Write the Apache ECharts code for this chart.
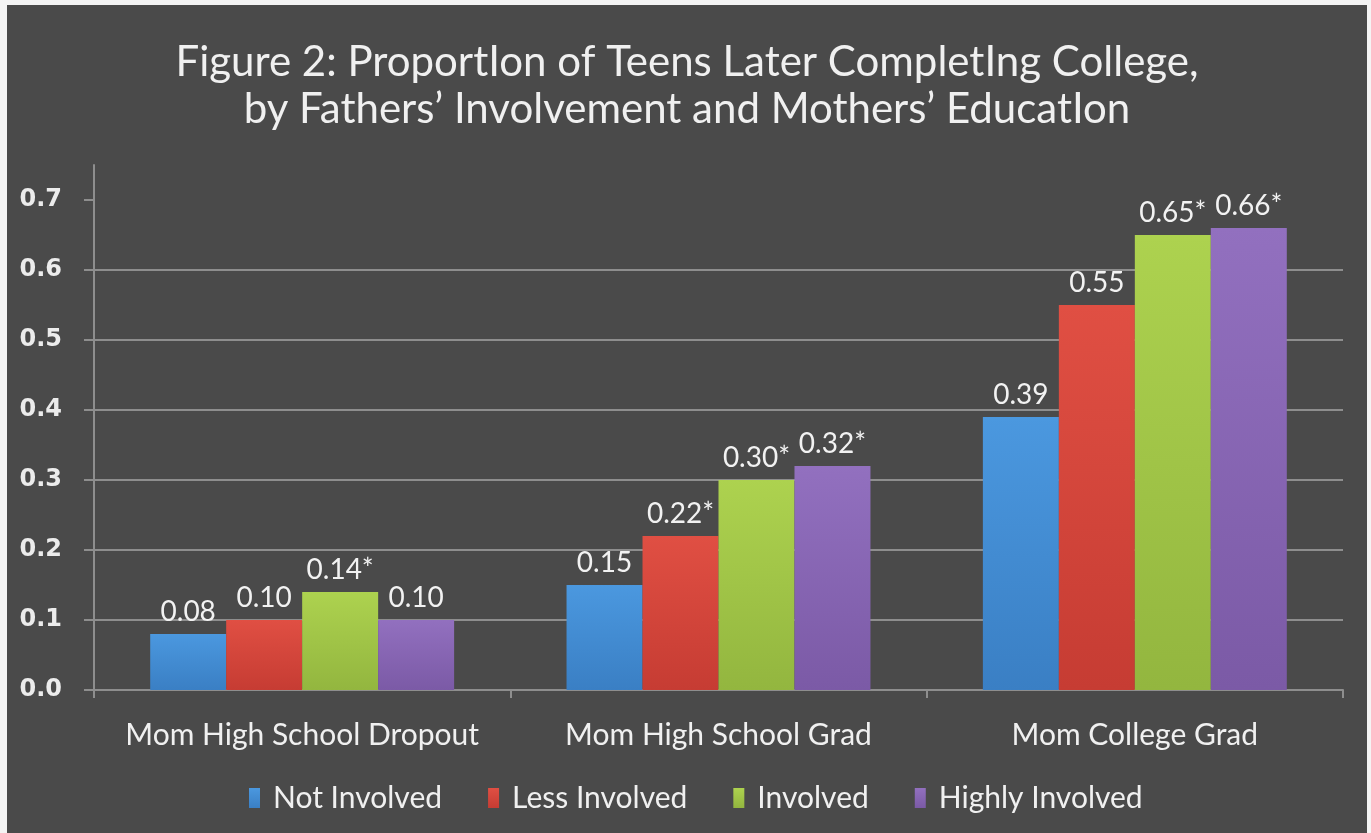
<!DOCTYPE html>
<html>
<head>
<meta charset="utf-8">
<script src="https://cdn.jsdelivr.net/npm/echarts@6/dist/echarts.min.js"></script>
<style>
html, body { margin: 0; padding: 0; background: #f4f4f4; }
#chart { position: absolute; left: 7px; top: 5px; width: 1360px; height: 828px; }
</style>
</head>
<body>
<div id="chart"></div>
<script>
// categories + series
var categories = ['Mom High School Dropout', 'Mom High School Grad', 'Mom College Grad'];
var seriesNames = ['Not Involved', 'Less Involved', 'Involved', 'Highly Involved'];
var notInvolved = [0.08, 0.15, 0.39];
var lessInvolved = [0.10, 0.22, 0.55];
var involved = [0.14, 0.30, 0.65];
var highlyInvolved = [0.10, 0.32, 0.66];
// significance stars
var notInvolvedSig = [false, false, false];
var lessInvolvedSig = [false, true, false];
var involvedSig = [true, true, true];
var highlyInvolvedSig = [false, true, true];
var yTicks = [0, 0.1, 0.2, 0.3, 0.4, 0.5, 0.6, 0.7];

var colors = [
	['#4b98df', '#3a7fc4'],
	['#e04f43', '#c63c33'],
	['#add24f', '#93b63f'],
	['#9270bf', '#7b5aa6']
];

var chart = echarts.init(document.getElementById('chart'));

function mkSeries(i, values, sig) {
	return {
		name: seriesNames[i],
		type: 'bar',
		barGap: '0%',
		barCategoryGap: '27%',
		itemStyle: {
			color: new echarts.graphic.LinearGradient(0, 0, 0, 1, [
				{offset: 0, color: colors[i][0]},
				{offset: 1, color: colors[i][1]}
			])
		},
		label: {
			show: true,
			position: 'top',
			distance: 8,
			color: '#f2f2f2',
			fontFamily: 'Lato',
			fontSize: 28,
			formatter: function (p) {
				return p.value.toFixed(2) + (sig[p.dataIndex] ? '*' : '');
			}
		},
		data: values
	};
}

var option = {
	backgroundColor: '#4a4a4a',
	animation: false,
	title: {
		text: 'Figure 2: ProportIon of Teens Later CompletIng College,\nby Fathers\u2019 Involvement and Mothers\u2019 EducatIon',
		left: 'center',
		top: 29,
		textStyle: {
			color: '#f0f0f0',
			fontFamily: 'Lato',
			fontWeight: 'normal',
			fontSize: 42,
			lineHeight: 47
		}
	},
	legend: {
		bottom: 15,
		left: 237,
		itemWidth: 11,
		itemHeight: 20,
		itemGap: 46,
		icon: 'rect',
		textStyle: {color: '#f0f0f0', fontFamily: 'Lato', fontSize: 30, padding: [0, 0, 0, 8]},
		data: seriesNames
	},
	grid: {left: 87, right: 24, top: 160, bottom: 143},
	xAxis: {
		type: 'category',
		data: categories,
		axisLine: {lineStyle: {color: '#8e8e8e', width: 2}},
		axisTick: {show: true, length: 8, lineStyle: {color: '#8e8e8e', width: 2}},
		axisLabel: {color: '#f0f0f0', fontFamily: 'Lato', fontSize: 30, margin: 30, interval: 0}
	},
	yAxis: {
		type: 'value',
		min: 0,
		max: 0.75,
		interval: 0.1,
		axisLine: {show: true, lineStyle: {color: '#8e8e8e', width: 2}},
		axisTick: {show: true, length: 10, customValues: yTicks, lineStyle: {color: '#8e8e8e', width: 2}},
		axisLabel: {
			color: '#ececec',
			fontFamily: 'DejaVu Sans',
			fontWeight: 'bold',
			fontSize: 24,
			margin: 32,
			customValues: yTicks,
			formatter: function (v) { return v.toFixed(1); }
		},
		splitLine: {show: true, showMaxLine: false, lineStyle: {color: '#8e8e8e', width: 2}}
	},
	series: [
		mkSeries(0, notInvolved, notInvolvedSig),
		mkSeries(1, lessInvolved, lessInvolvedSig),
		mkSeries(2, involved, involvedSig),
		mkSeries(3, highlyInvolved, highlyInvolvedSig)
	]
};

chart.setOption(option);
window.onresize = chart.resize;
</script>
</body>
</html>
